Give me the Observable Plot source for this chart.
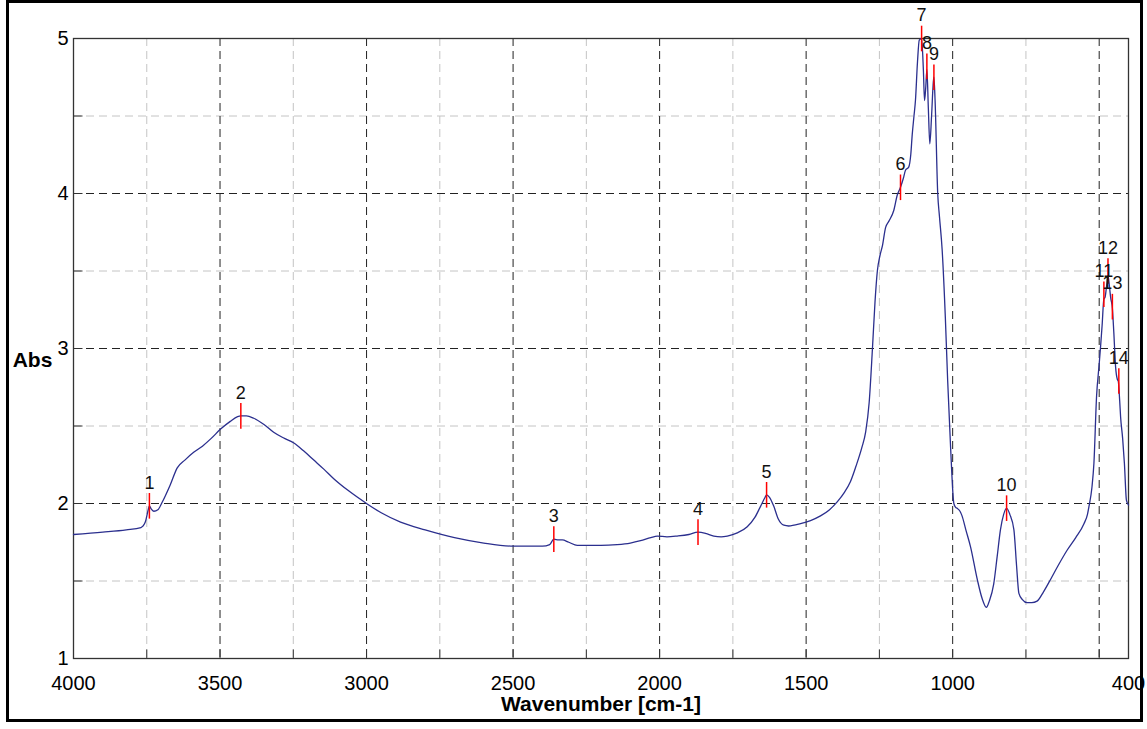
<!DOCTYPE html>
<html><head><meta charset="utf-8">
<script src="https://cdn.jsdelivr.net/npm/d3@7"></script>
<script src="https://cdn.jsdelivr.net/npm/@observablehq/plot@0.6"></script>
<style>
body{margin:0;background:#fff;}
#wrap{position:relative;width:1147px;height:729px;}
#border{position:absolute;left:6px;top:0px;width:1137px;height:722px;box-sizing:border-box;border:3px solid #000;pointer-events:none;}
</style></head>
<body><div id="wrap"><div id="border"></div></div>
<script>
const wavenumber = [4000,3900,3820,3770,3755,3745,3741,3735,3726,3712,3697,3670,3646,3620,3590,3560,3530,3498,3465,3440,3429,3410,3385,3350,3317,3280,3248,3215,3180,3145,3112,3060,3000,2950,2884,2800,2700,2600,2500,2400,2375,2361,2345,2332,2310,2281,2200,2145,2100,2065,2030,2008,1975,1940,1900,1869,1840,1815,1790,1769,1735,1701,1675,1656,1640,1635,1625,1610,1595,1576,1560,1519,1485,1451,1420,1394,1370,1349,1330,1310,1297,1285,1274,1265,1257,1248,1240,1229,1218,1201,1189,1178,1168,1161,1150,1143,1138,1132,1127,1120,1114,1106,1100,1096,1092,1088,1083,1078,1072,1066,1064,1060,1051,1045,1036,1025,1017,1007,996,990,985,975,968,955,939,916,900,885,875,860,848,837,826,816,805,791,782,774,762,746,730,712,690,666,640,609,580,552,540,535,525,518,509,500,495,490,484,480,475,470,465,461,455,450,444,438,435,430,427,420,414,407,400];
const absorbance = [1.80,1.815,1.83,1.845,1.88,1.96,1.985,1.965,1.95,1.96,2.01,2.12,2.23,2.28,2.33,2.37,2.42,2.48,2.53,2.56,2.565,2.565,2.55,2.51,2.46,2.42,2.39,2.34,2.28,2.22,2.16,2.08,2.00,1.94,1.88,1.83,1.78,1.745,1.725,1.725,1.735,1.77,1.765,1.765,1.75,1.73,1.73,1.735,1.745,1.76,1.78,1.79,1.785,1.79,1.80,1.815,1.805,1.79,1.785,1.79,1.81,1.85,1.91,1.98,2.04,2.056,2.04,1.98,1.90,1.86,1.855,1.87,1.89,1.92,1.96,2.01,2.07,2.14,2.24,2.36,2.46,2.65,2.99,3.30,3.50,3.60,3.66,3.78,3.82,3.89,3.99,4.04,4.10,4.15,4.17,4.25,4.38,4.50,4.60,4.85,4.99,5.0,4.80,4.60,4.68,4.80,4.55,4.32,4.50,4.72,4.75,4.60,4.00,3.85,3.64,3.20,2.79,2.36,2.00,1.975,1.97,1.95,1.92,1.83,1.72,1.51,1.39,1.33,1.37,1.48,1.66,1.83,1.93,1.97,1.93,1.83,1.60,1.42,1.38,1.36,1.36,1.37,1.43,1.51,1.60,1.70,1.78,1.87,1.93,1.98,2.10,2.26,2.69,2.90,3.02,3.15,3.32,3.33,3.40,3.47,3.40,3.33,3.26,3.10,2.88,2.80,2.79,2.66,2.56,2.42,2.26,2.02,1.99];

const peakNumber = [1,2,3,4,5,6,7,8,9,10,11,12,13,14];
const peakWavenumber = [3741,3429,2361,1869,1635,1178,1106,1088,1064,816,484,470,455,433];
const peakAbsorbance = [1.985,2.565,1.77,1.815,2.056,4.04,5.0,4.82,4.75,1.97,3.35,3.50,3.27,2.79];

const xTickValues = [4000,3500,3000,2500,2000,1500,1000,400];
const yTickValues = [1,2,3,4,5];
const xMajorGrid = [3500,3000,2500,2000,1500,1000,500];
const xMinorGrid = [3750,3250,2750,2250,1750,1250,750];
const yMajorGrid = [2,3,4];
const yMinorGrid = [1.5,2.5,3.5,4.5];

const spectrum = wavenumber.map((w,i)=>({w, a: absorbance[i]}));
const peaks = peakNumber.map((n,i)=>({n, w: peakWavenumber[i], a: peakAbsorbance[i]}));
const xInTicks = [...xMajorGrid, ...xMinorGrid];
const yInTicks = [...yMajorGrid, ...yMinorGrid];

const tickUp = {draw(ctx){ctx.moveTo(0,0); ctx.lineTo(0,-9);}};
const tickRight = {draw(ctx){ctx.moveTo(0,0); ctx.lineTo(9,0);}};
const peakTick = {draw(ctx){ctx.moveTo(0,-12.8); ctx.lineTo(0,12.8);}};

const chart = Plot.plot({
  width: 1147, height: 729,
  marginLeft: 73, marginRight: 19, marginTop: 38, marginBottom: 71,
  style: {fontFamily: "'Liberation Sans', Arial, sans-serif", fontSize: "20px", color: "#000", background: "transparent"},
  x: {domain: [4000, 400], ticks: xTickValues, tickFormat: d => String(d), tickSize: 0, tickPadding: 17, label: null},
  y: {domain: [1, 5], ticks: yTickValues, tickFormat: d => String(d), tickSize: 0, tickPadding: 5, label: null},
  marks: [
    Plot.ruleX(xMinorGrid, {stroke: "#c4c4c4", strokeWidth: 1, strokeDasharray: "8,5"}),
    Plot.ruleY(yMinorGrid, {stroke: "#c4c4c4", strokeWidth: 1, strokeDasharray: "8,5"}),
    Plot.ruleX(xMajorGrid, {stroke: "#222", strokeWidth: 1, strokeDasharray: "8,5"}),
    Plot.ruleY(yMajorGrid, {stroke: "#222", strokeWidth: 1, strokeDasharray: "8,5"}),
    Plot.dot(xInTicks, {x: d => d, y: () => 1, symbol: tickUp, stroke: "#333", fill: "none", strokeWidth: 1}),
    Plot.dot(yInTicks, {x: () => 4000, y: d => d, symbol: tickRight, stroke: "#333", fill: "none", strokeWidth: 1}),
    Plot.frame({stroke: "#333", strokeWidth: 1.3}),
    Plot.line(spectrum, {x: "w", y: "a", curve: "monotone-x", stroke: "#2b2f8e", strokeWidth: 1.3}),
    Plot.dot(peaks, {x: "w", y: "a", symbol: peakTick, stroke: "#ff0000", fill: "none", strokeWidth: 1.5}),
    Plot.text(peaks, {x: "w", y: "a", text: d => String(d.n), dy: -23, fontSize: 18, fill: "#111", textAnchor: "middle"}),
    Plot.text(["Abs"], {frameAnchor: "left", dx: -41, dy: 12, fontSize: 21, fontWeight: "bold", fill: "#000", textAnchor: "middle"}),
    Plot.text(["Wavenumber [cm-1]"], {frameAnchor: "bottom", dy: 52, fontSize: 21, fontWeight: "bold", fill: "#000", textAnchor: "middle"})
  ]
});
document.getElementById("wrap").prepend(chart);
</script>
</body></html>
